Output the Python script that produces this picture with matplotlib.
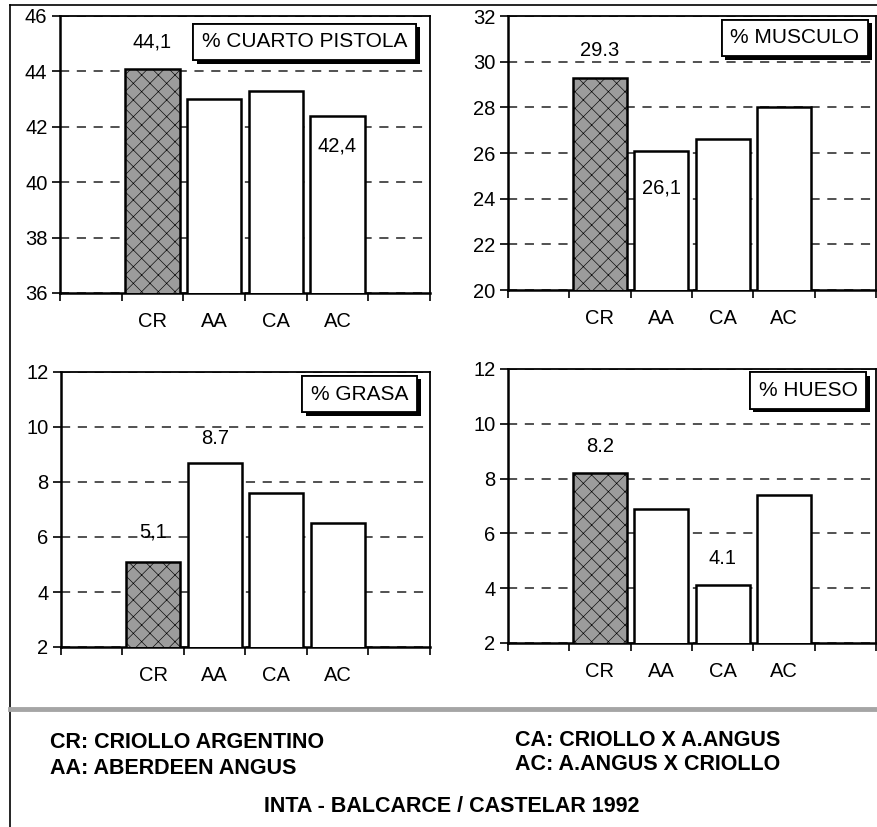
import matplotlib
matplotlib.use("Agg")
import matplotlib.pyplot as plt
import matplotlib.patheffects as pe
from matplotlib.lines import Line2D
import numpy as np

# datos del grafico
categorias = ["CR", "AA", "CA", "AC"]
cuarto_pistola = [44.1, 43.0, 43.3, 42.4]
musculo = [29.3, 26.1, 26.6, 28.0]
grasa = [5.1, 8.7, 7.6, 6.5]
hueso = [8.2, 6.9, 4.1, 7.4]

titulos = ["% CUARTO PISTOLA", "% MUSCULO", "% GRASA", "% HUESO"]
# etiquetas de valor: (indice de barra, texto)
etiquetas_pistola = [(0, "44,1"), (3, "42,4")]
etiquetas_musculo = [(0, "29.3"), (1, "26,1")]
etiquetas_grasa = [(0, "5,1"), (1, "8.7")]
etiquetas_hueso = [(0, "8.2"), (2, "4.1")]

leyenda_izq = ["CR: CRIOLLO ARGENTINO", "AA: ABERDEEN ANGUS"]
leyenda_der = ["CA: CRIOLLO X A.ANGUS", "AC: A.ANGUS X CRIOLLO"]
fuente = "INTA - BALCARCE / CASTELAR 1992"

plt.rcParams['font.family'] = ['Liberation Sans', 'DejaVu Sans']
plt.rcParams['hatch.linewidth'] = 0.45

W, H = 878, 827


def rect(x0, y_top, x1, y_bot):
    """pixeles -> fraccion de figura"""
    return [x0 / W, 1 - y_bot / H, (x1 - x0) / W, (y_bot - y_top) / H]


def dibujar_panel(fig, pos, valores, ylim, titulo, etiquetas, desplaz,
                  caja):
    ax = fig.add_axes(pos)
    n = len(categorias)
    x = np.arange(1, n + 1)
    colores = ["#9c9c9c"] + ["white"] * (n - 1)
    barras = ax.bar(x, valores, width=0.88, color=colores,
                    edgecolor="black", linewidth=1.8, zorder=3)
    barras[0].set_hatch("xx")
    ax.set_xlim(-0.5, n + 1.5)
    ax.set_ylim(*ylim)
    ax.set_yticks(np.arange(ylim[0], ylim[1] + 1, 2))
    ax.set_xticks(x)
    ax.set_xticklabels(categorias)
    ax.set_xticks(np.arange(n + 3) - 0.5, minor=True)
    # grilla punteada detras de las barras
    ax.set_axisbelow(True)
    ax.yaxis.grid(True, linestyle=(0, (6, 5)), color="#222222",
                  linewidth=1.1)
    ax.tick_params(axis="y", direction="out", length=6, width=1.2,
                   labelsize=14.5, pad=3)
    ax.tick_params(axis="x", which="major", length=0, labelsize=14.5,
                   pad=14)
    ax.tick_params(axis="x", which="minor", direction="out", length=6,
                   width=1.2)
    for lado in ["left", "bottom"]:
        ax.spines[lado].set_linewidth(1.8)
    for lado in ["top", "right"]:
        ax.spines[lado].set_linewidth(1.3)
    # etiquetas de valores
    for (i, texto), d in zip(etiquetas, desplaz):
        ax.text(x[i], valores[i] + d, texto, ha="center", va="center",
                fontsize=14.5, zorder=6)
    # caja con titulo y sombra
    t = ax.text(caja[0], caja[1], titulo, transform=ax.transAxes,
                ha="right", va="top", fontsize=15, zorder=7,
                bbox=dict(boxstyle="square,pad=0.42", fc="white",
                          ec="black", lw=1.3))
    t.get_bbox_patch().set_path_effects([
        pe.withSimplePatchShadow(offset=(2.5, -2.5), shadow_rgbFace="black",
                                 alpha=1.0),
        pe.Normal()])
    return ax


def main():
    fig = plt.figure(figsize=(W / 100, H / 100), dpi=100)

    dibujar_panel(fig, rect(60, 16, 430, 293), cuarto_pistola, (36, 46),
                  titulos[0], etiquetas_pistola, [0.96, -1.1],
                  (0.939, 0.941))
    dibujar_panel(fig, rect(508, 16, 876, 290), musculo, (20, 32),
                  titulos[1], etiquetas_musculo, [1.2, -1.63],
                  (0.955, 0.955))
    dibujar_panel(fig, rect(61, 372, 430, 647), grasa, (2, 12),
                  titulos[2], etiquetas_grasa, [1.08, 0.89],
                  (0.942, 0.954))
    dibujar_panel(fig, rect(508, 369, 876, 643), hueso, (2, 12),
                  titulos[3], etiquetas_hueso, [0.96, 0.98],
                  (0.95, 0.956))

    # marco exterior
    fig.add_artist(Line2D([10 / W, 10 / W], [0, 1 - 5 / H],
                          transform=fig.transFigure, color="black", lw=1.2))
    fig.add_artist(Line2D([10 / W, 1], [1 - 5 / H, 1 - 5 / H],
                          transform=fig.transFigure, color="black", lw=1.2))
    # banda separadora
    fig.add_artist(Line2D([10 / W, 1], [1 - 709 / H, 1 - 709 / H],
                          transform=fig.transFigure, color="#a5a5a5", lw=3.5))

    # leyenda
    for texto, y in zip(leyenda_izq, [743, 768]):
        fig.text(50 / W, 1 - y / H, texto, ha="left", va="center",
                 fontsize=15.5, fontweight="bold")
    for texto, y in zip(leyenda_der, [740, 765]):
        fig.text(515 / W, 1 - y / H, texto, ha="left", va="center",
                 fontsize=15.5, fontweight="bold")
    fig.text(452 / W, 1 - 807 / H, fuente, ha="center", va="center",
             fontsize=15.5, fontweight="bold")

    fig.savefig("out.png", dpi=100)
    plt.close(fig)


if __name__ == "__main__":
    main()
